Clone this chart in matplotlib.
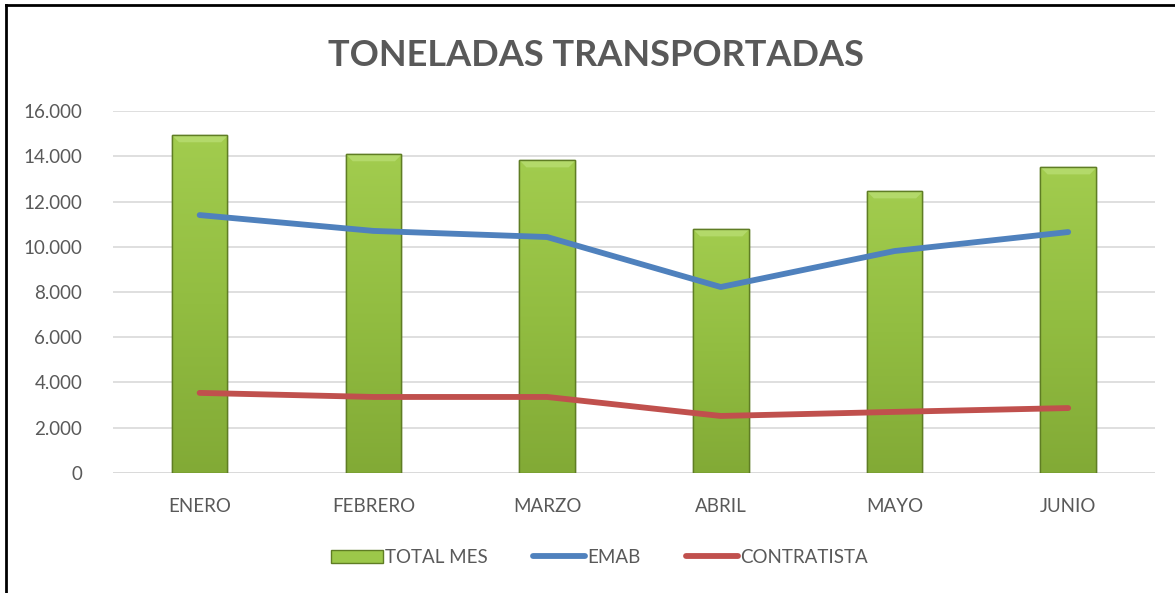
import matplotlib
matplotlib.use("Agg")
import matplotlib.pyplot as plt
import numpy as np
from matplotlib.lines import Line2D
from matplotlib.ticker import FuncFormatter
from matplotlib.colors import LinearSegmentedColormap

# ── Data ──────────────────────────────────────────────────────────────────────
meses = ["ENERO", "FEBRERO", "MARZO", "ABRIL", "MAYO", "JUNIO"]
total_mes = [14940, 14100, 13830, 10780, 12460, 13520]
emab = [11400, 10700, 10430, 8220, 9810, 10650]
contratista = [3540, 3360, 3360, 2520, 2700, 2870]

# ── Colours ───────────────────────────────────────────────────────────────────
C = {
    "text":  "#595959",
    "grid":  "#D9D9D9",
    "emab":  "#4F81BD",
    "contr": "#C0504D",
    "bar":   "#94BF42",
    "edge":  "#5F7D24",
}

plt.rcParams["font.family"] = ["Lato", "DejaVu Sans"]

fig = plt.figure(figsize=(11.75, 5.93), dpi=100, facecolor="white")
ax = fig.add_axes([0.096, 0.2024, 0.887, 0.6104])

x = np.arange(len(meses))
bars = ax.bar(x, total_mes, width=0.32, color=C["bar"], edgecolor=C["edge"],
              linewidth=1.0, label="TOTAL MES", zorder=2)

# gradient fill clipped to each bar (slightly lighter top)
cmap = LinearSegmentedColormap.from_list("g", ["#82AA36", "#92BD41", "#A2CC4E"])
grad = np.linspace(0, 1, 256).reshape(-1, 1)
for b in bars:
    x0, w, h = b.get_x(), b.get_width(), b.get_height()
    im = ax.imshow(grad, cmap=cmap, aspect="auto", origin="lower",
                   extent=[x0, x0 + w, 0, h], zorder=2.1)
    im.set_clip_path(b)
    # bevel highlight at top
    ax.fill_between([x0, x0 + w * 0.12, x0 + w * 0.88, x0 + w],
                    [h, h - 300, h - 300, h], [h, h, h, h],
                    color="#B3D96A", lw=0, zorder=2.2)
    ax.bar(x0 + w / 2, h, width=w, facecolor="none", edgecolor=C["edge"],
           lw=1.0, zorder=2.3)

ax.plot(x, emab, color=C["emab"], lw=4.2, solid_capstyle="round",
        label="EMAB", zorder=3)
ax.plot(x, contratista, color=C["contr"], lw=4.2, solid_capstyle="round",
        label="CONTRATISTA", zorder=3)

ax.set_xlim(-0.5, len(meses) - 0.5)
ax.set_ylim(0, 16000)
ax.set_yticks(np.arange(0, 16001, 2000))
ax.yaxis.set_major_formatter(FuncFormatter(lambda v, _: f"{int(v):,}".replace(",", ".")))
ax.set_xticks(x)
ax.set_xticklabels(meses)
ax.tick_params(axis="both", length=0, colors=C["text"], labelsize=13.5)
ax.tick_params(axis="y", pad=22)
ax.tick_params(axis="x", pad=18)
ax.grid(axis="y", color=C["grid"], lw=1.2, zorder=0)
ax.set_axisbelow(True)
for s in ax.spines.values():
    s.set_visible(False)
ax.axhline(0, color=C["grid"], lw=1.2, zorder=1)

fig.text(0.507, 0.907, "TONELADAS TRANSPORTADAS", ha="center", va="center",
         fontsize=26, fontweight="bold", color=C["text"])

handles = [
    plt.Rectangle((0, 0), 1, 1, facecolor="#9CC84A", edgecolor=C["edge"]),
    Line2D([], [], color=C["emab"], lw=4.2, solid_capstyle="round"),
    Line2D([], [], color=C["contr"], lw=4.2, solid_capstyle="round"),
]
fig.legend(handles, ["TOTAL MES", "EMAB", "CONTRATISTA"], loc="center",
           bbox_to_anchor=(0.51, 0.06), ncol=3, frameon=False, fontsize=13.5,
           labelcolor=C["text"], handlelength=2.8, handletextpad=0.1,
           columnspacing=2.4)

# outer border (left and top)
fig.add_artist(Line2D([0.005, 0.005], [0, 0.992], color="black", lw=2,
                      transform=fig.transFigure))
fig.add_artist(Line2D([0.005, 1], [0.992, 0.992], color="black", lw=2,
                      transform=fig.transFigure))

fig.savefig("out.png", dpi=100, facecolor="white")
